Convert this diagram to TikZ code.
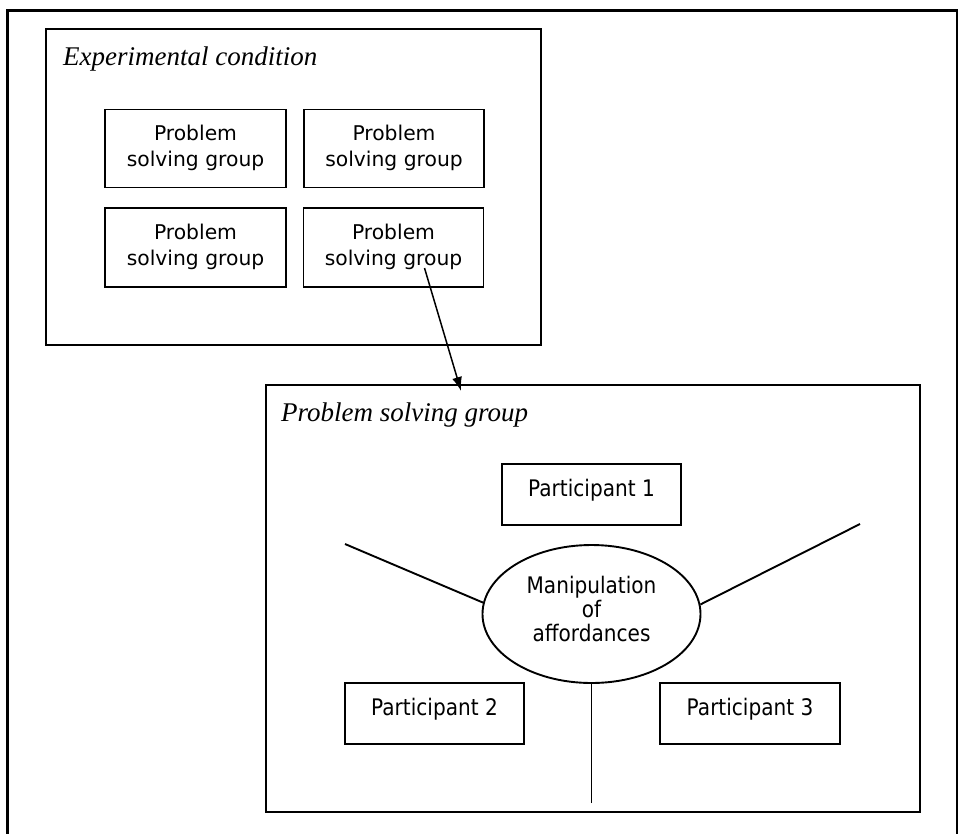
\documentclass[tikz,border=0pt]{standalone}
\usepackage{fontspec}
\setmainfont{Liberation Serif}
\newfontfamily\boxfont{DejaVu Sans}
\newfontfamily\partfont{DejaVu Sans}[FakeStretch=0.88]
\usetikzlibrary{shapes.geometric,arrows.meta}

\begin{document}
\begin{tikzpicture}[x=1pt,y=-1pt,
  outerframe/.style={draw, line width=3pt},
  container/.style={draw, line width=1.9pt, inner sep=0pt},
  groupbox/.style={draw, line width=1.9pt, minimum width=180pt, minimum height=78pt,
    inner sep=0pt, align=center, font=\boxfont\fontsize{20.3}{25.5}\selectfont},
  partbox/.style={draw, line width=1.9pt, minimum width=179pt, minimum height=61pt,
    inner sep=0pt, text height=17pt, text depth=13pt,
    font=\partfont\fontsize{22.8}{25}\selectfont},
  hub/.style={draw, ellipse, line width=1.9pt, minimum width=218pt, minimum height=138pt,
    inner sep=0pt, align=center, font=\partfont\fontsize{22.8}{24}\selectfont},
  heading/.style={anchor=base west, inner sep=0pt, font=\itshape\fontsize{27}{31}\selectfont},
  spoke/.style={line width=1.9pt},
  link/.style={line width=1.5pt, -{Latex[length=14pt,width=10pt]}}]

\useasboundingbox (0,0) rectangle (958,833);
\fill[white] (0,0) rectangle (958,833);

% outer frame of the figure
\draw[outerframe] (7,10) rectangle (957,845);

% experimental condition with its four groups
\node[container, minimum width=495pt, minimum height=316pt] (expbox) at (293.5,187) {};
\node[heading] (exptitle) at (63,65) {Experimental condition};
\node[groupbox, minimum width=181pt] (g1) at (195.5,148.5) {Problem\\solving group\\[-20pt]\mbox{}};
\node[groupbox] (g2) at (394,148.5) {Problem\\solving group\\[-20pt]\mbox{}};
\node[groupbox, minimum width=181pt, minimum height=79pt] (g3) at (195.5,247.5) {Problem\\solving group\\[-20pt]\mbox{}};
\node[groupbox, minimum height=79pt] (g4) at (393.5,247.5) {Problem\\solving group\\[-20pt]\mbox{}};

% one problem solving group in detail
\node[container, minimum width=654pt, minimum height=427pt] (psg) at (593,598.5) {};
\node[heading] (psgtitle) at (281,421) {Problem solving group};

\node[partbox] (p1) at (591.5,494.5) {Participant 1};
\node[partbox] (p2) at (434.5,713.5) {Participant 2};
\node[partbox, minimum width=180pt] (p3) at (750,713.5) {Participant 3};

\node[hub] (hub) at (591.5,614) {Manipulation\\of\\affordances\\[-14pt]\mbox{}};

\coordinate (sL) at (345,544);
\coordinate (sR) at (860,524);
\coordinate (sB) at (591.5,803);
\draw[spoke] (sL) -- (hub.174.7);
\draw[spoke] (sR) -- (hub.5.8);
\draw[spoke] (sB) -- (hub.south);

% zoom link from one group to its detail
\draw[link] ([shift={(31,20.5)}]g4.center) -- ([shift={(196,7)}]psg.north west);

\end{tikzpicture}
\end{document}
